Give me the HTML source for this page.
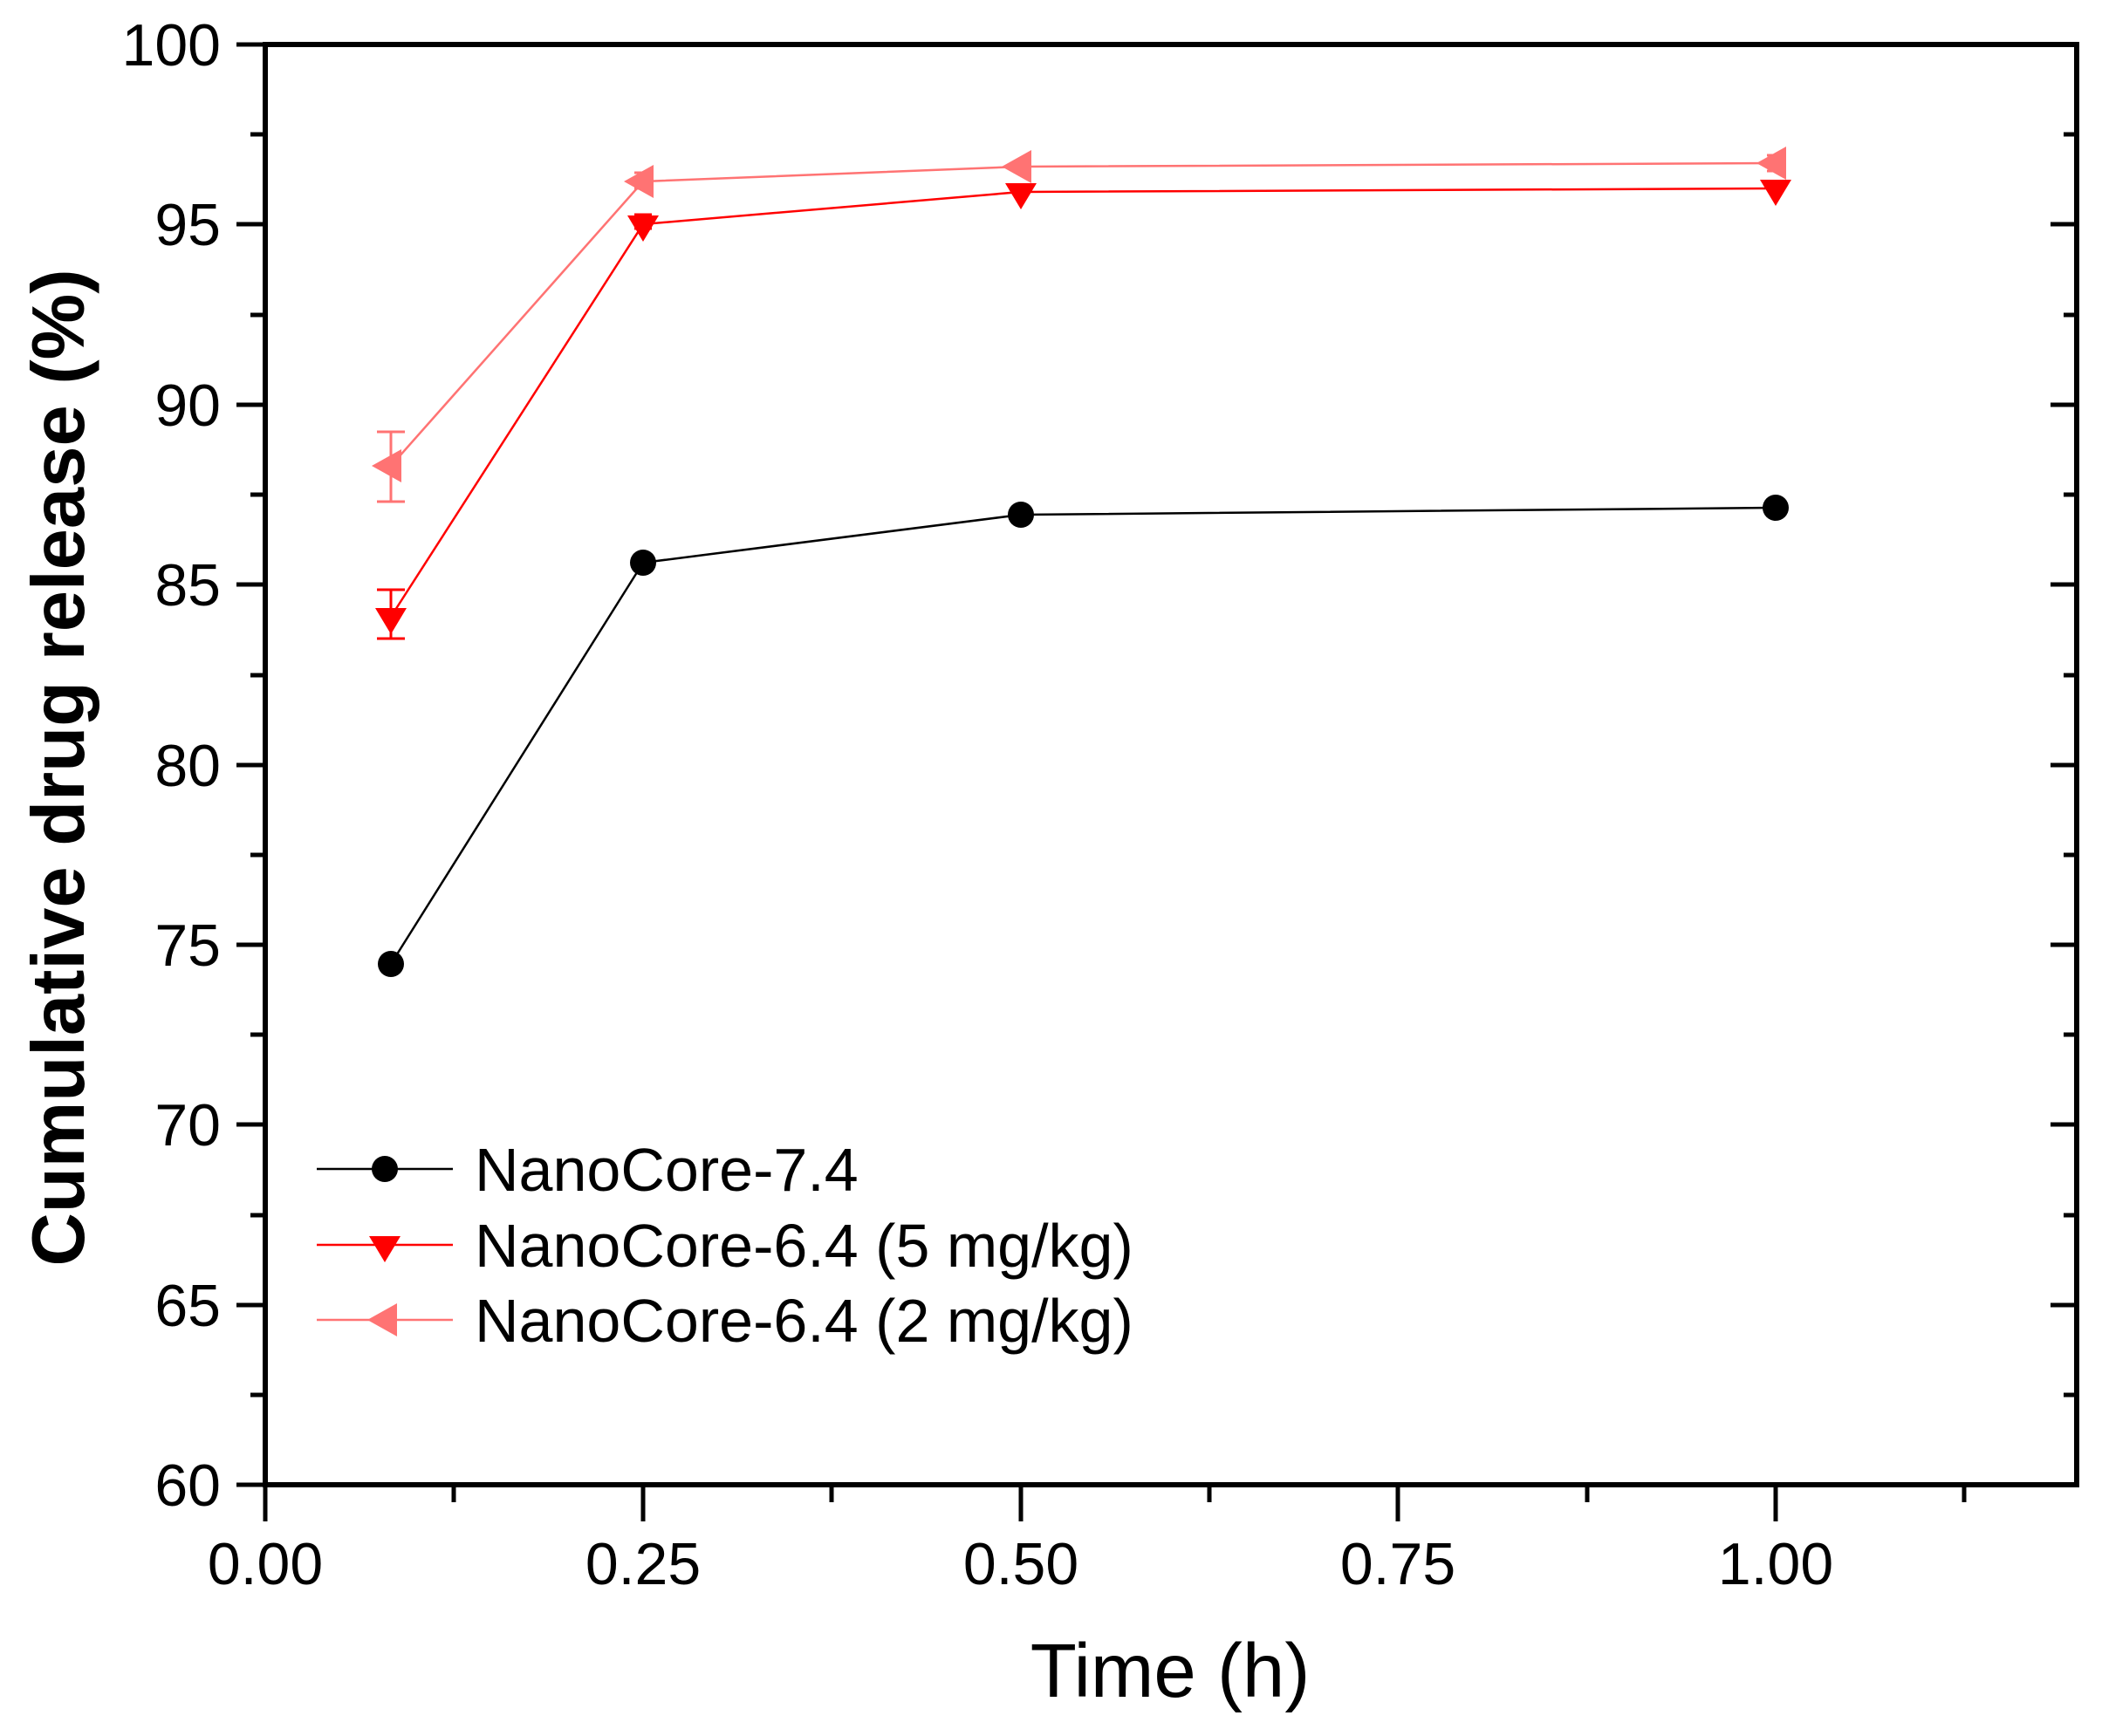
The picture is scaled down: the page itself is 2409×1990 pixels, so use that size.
<!DOCTYPE html>
<html><head><meta charset="utf-8"><style>html,body{margin:0;padding:0;background:#fff}</style></head>
<body>
<svg width="2409" height="1985" viewBox="0 0 2409 1985" xmlns="http://www.w3.org/2000/svg" font-family="Liberation Sans, Arial, sans-serif">
<rect width="2409" height="1985" fill="#fff"/>
<g stroke="#000" stroke-width="5">
<line x1="271" y1="51" x2="304" y2="51"/><line x1="271" y1="257" x2="304" y2="257"/><line x1="271" y1="464" x2="304" y2="464"/><line x1="271" y1="670" x2="304" y2="670"/><line x1="271" y1="877" x2="304" y2="877"/><line x1="271" y1="1083" x2="304" y2="1083"/><line x1="271" y1="1289" x2="304" y2="1289"/><line x1="271" y1="1496" x2="304" y2="1496"/><line x1="271" y1="1702" x2="304" y2="1702"/>
<line x1="287" y1="154" x2="304" y2="154"/><line x1="287" y1="361" x2="304" y2="361"/><line x1="287" y1="567" x2="304" y2="567"/><line x1="287" y1="774" x2="304" y2="774"/><line x1="287" y1="980" x2="304" y2="980"/><line x1="287" y1="1186" x2="304" y2="1186"/><line x1="287" y1="1393" x2="304" y2="1393"/><line x1="287" y1="1599" x2="304" y2="1599"/>
<line x1="2350" y1="257" x2="2380" y2="257"/><line x1="2350" y1="464" x2="2380" y2="464"/><line x1="2350" y1="670" x2="2380" y2="670"/><line x1="2350" y1="877" x2="2380" y2="877"/><line x1="2350" y1="1083" x2="2380" y2="1083"/><line x1="2350" y1="1289" x2="2380" y2="1289"/><line x1="2350" y1="1496" x2="2380" y2="1496"/>
<line x1="2365" y1="154" x2="2380" y2="154"/><line x1="2365" y1="361" x2="2380" y2="361"/><line x1="2365" y1="567" x2="2380" y2="567"/><line x1="2365" y1="774" x2="2380" y2="774"/><line x1="2365" y1="980" x2="2380" y2="980"/><line x1="2365" y1="1186" x2="2380" y2="1186"/><line x1="2365" y1="1393" x2="2380" y2="1393"/><line x1="2365" y1="1599" x2="2380" y2="1599"/>
<line x1="304" y1="1702" x2="304" y2="1744"/><line x1="737" y1="1702" x2="737" y2="1744"/><line x1="1170" y1="1702" x2="1170" y2="1744"/><line x1="1602" y1="1702" x2="1602" y2="1744"/><line x1="2035" y1="1702" x2="2035" y2="1744"/>
<line x1="520" y1="1702" x2="520" y2="1722"/><line x1="953" y1="1702" x2="953" y2="1722"/><line x1="1386" y1="1702" x2="1386" y2="1722"/><line x1="1819" y1="1702" x2="1819" y2="1722"/><line x1="2251" y1="1702" x2="2251" y2="1722"/>
</g>
<rect x="304" y="51" width="2076" height="1651" fill="none" stroke="#000" stroke-width="6"/>
<g font-size="68" text-anchor="end" fill="#000">
<text x="253" y="75">100</text><text x="253" y="281">95</text><text x="253" y="488">90</text><text x="253" y="694">85</text><text x="253" y="901">80</text><text x="253" y="1107">75</text><text x="253" y="1313">70</text><text x="253" y="1520">65</text><text x="253" y="1726">60</text>
</g>
<g font-size="68" text-anchor="middle" fill="#000">
<text x="304" y="1816">0.00</text><text x="737" y="1816">0.25</text><text x="1170" y="1816">0.50</text><text x="1602" y="1816">0.75</text><text x="2035" y="1816">1.00</text>
</g>
<text x="1341" y="1945" font-size="87" text-anchor="middle">Time (h)</text>
<text transform="translate(96,880) rotate(-90)" font-size="85" font-weight="bold" text-anchor="middle">Cumulative drug release (%)</text>
<polyline fill="none" stroke="#000" stroke-width="2.5" points="448,1105 737,645 1170,590 2035,582"/>
<g fill="#000"><circle cx="448" cy="1105" r="15"/><circle cx="737" cy="645" r="15"/><circle cx="1170" cy="590" r="15"/><circle cx="2035" cy="582" r="15"/></g>
<g stroke="#f00" stroke-width="3" fill="none">
<line x1="448" y1="676" x2="448" y2="732"/><line x1="432" y1="676" x2="464" y2="676"/><line x1="432" y1="732" x2="464" y2="732"/>
<line x1="727" y1="246" x2="747" y2="246"/><line x1="727" y1="262" x2="747" y2="262"/>
<polyline stroke-width="2.5" points="448,707 737,257 1170,220 2035,216"/>
</g>
<g fill="#f00">
<polygon points="430,697 466,697 448,727"/><polygon points="719,247 755,247 737,277"/><polygon points="1152,210 1188,210 1170,240"/><polygon points="2017,206 2053,206 2035,236"/>
</g>
<g stroke="#ff7373" stroke-width="3" fill="none">
<line x1="448" y1="495" x2="448" y2="575"/><line x1="432" y1="495" x2="464" y2="495"/><line x1="432" y1="575" x2="464" y2="575"/>
<line x1="727" y1="198" x2="747" y2="198"/><line x1="727" y1="216" x2="747" y2="216"/>
<line x1="2025" y1="178" x2="2045" y2="178"/><line x1="2025" y1="196" x2="2045" y2="196"/>
<polyline stroke-width="2.5" points="448,534 737,208 1170,191 2035,187"/>
</g>
<g fill="#ff7373">
<polygon points="426,534 460,515 460,553"/><polygon points="715,208 749,189 749,227"/><polygon points="1148,191 1182,172 1182,210"/><polygon points="2013,187 2047,168 2047,206"/>
</g>
<line x1="363" y1="1340" x2="519" y2="1340" stroke="#000" stroke-width="2.5"/>
<circle cx="441" cy="1340" r="15" fill="#000"/>
<line x1="363" y1="1427" x2="519" y2="1427" stroke="#f00" stroke-width="2.5"/>
<polygon points="423,1417 459,1417 441,1447" fill="#f00"/>
<line x1="363" y1="1513" x2="519" y2="1513" stroke="#ff7373" stroke-width="2.5"/>
<polygon points="421,1513 455,1494 455,1532" fill="#ff7373"/>
<g font-size="70" fill="#000">
<text x="544" y="1365">NanoCore-7.4</text>
<text x="544" y="1452">NanoCore-6.4 (5 mg/kg)</text>
<text x="544" y="1538">NanoCore-6.4 (2 mg/kg)</text>
</g>
</svg>
</body></html>
